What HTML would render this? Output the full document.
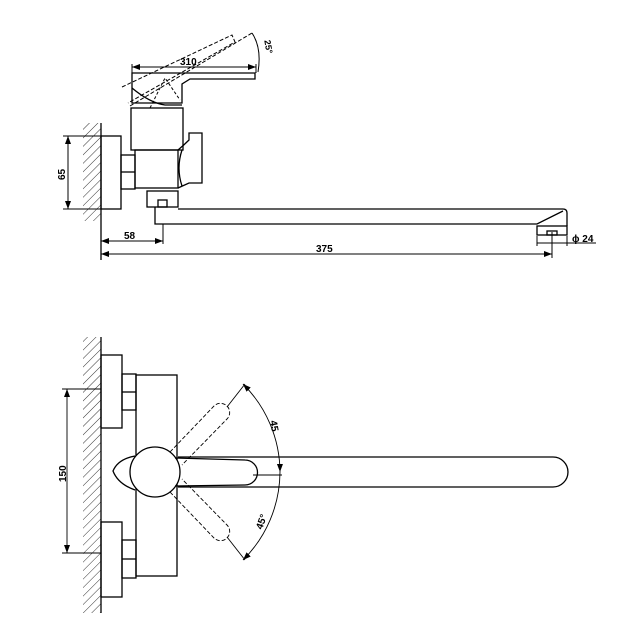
<!DOCTYPE html>
<html><head><style>html,body{margin:0;padding:0;background:#fff}svg{display:block}</style></head><body>
<svg width="634" height="621" viewBox="0 0 634 621" xmlns="http://www.w3.org/2000/svg" font-family="Liberation Sans, sans-serif" font-weight="bold" font-size="10">
<defs>
<pattern id="h" width="6" height="6" patternUnits="userSpaceOnUse" patternTransform="rotate(45)"><line x1="0" y1="0" x2="0" y2="6" stroke="#000" stroke-width="0.8"/></pattern>
<marker id="a" markerWidth="8" markerHeight="6" refX="8" refY="3" orient="auto-start-reverse" markerUnits="userSpaceOnUse"><path d="M0,0 L8,3 L0,6z" fill="#000"/></marker>
</defs>
<g fill="none" stroke="#000" stroke-width="1.3">
<rect x="83" y="123" width="18" height="98" fill="url(#h)" stroke="none"/>
<line x1="101" y1="123" x2="101" y2="260"/>
<rect x="101" y="136" width="20" height="73"/>
<rect x="121" y="155" width="14" height="34"/>
<line x1="121" y1="172" x2="135" y2="172"/>
<rect x="131" y="108" width="52" height="42"/>
<rect x="135" y="150" width="43" height="38"/>
<path d="M178,150 Q184,145 189,140 L189,133 L202,133 L202,183 L189,183 L178,188"/>
<path d="M182,150 Q176,168 182,186"/>
<rect x="147" y="191" width="31" height="16"/>
<rect x="158" y="200" width="9" height="7"/>
<path d="M155,207 L155,224 L160,224"/>
<path d="M178,209 L563,209 Q567,209 567,213 L567,226"/>
<path d="M160,224 L537,224 L563,211"/>
<rect x="537" y="226" width="30" height="9"/>
<rect x="547" y="231" width="10" height="4"/>
<path d="M132,73 L255,73 L255,79 L190,79 L182,84 L182,103 L132,103 Z"/>
<path d="M132,88 Q150,103 165,105 L182,105"/>
<path d="M122,87 L232,35 L235,42 L128,103" stroke-dasharray="4,2" stroke-width="1"/>
<path d="M130,106 L252,33" stroke-dasharray="4,2" stroke-width="1"/>
<path d="M150,108 L165,78 L180,100" stroke-dasharray="3,2" stroke-width="1"/>
<path d="M252,33 Q262,48 258,72" stroke-width="1"/>
<line x1="132" y1="67" x2="256" y2="67" marker-start="url(#a)" marker-end="url(#a)" stroke-width="1"/>
<line x1="132" y1="64" x2="132" y2="73" stroke-width="1"/>
<line x1="256" y1="64" x2="256" y2="73" stroke-width="1"/>
<line x1="63" y1="136" x2="101" y2="136" stroke-width="1"/>
<line x1="63" y1="209" x2="101" y2="209" stroke-width="1"/>
<line x1="68" y1="136" x2="68" y2="209" marker-start="url(#a)" marker-end="url(#a)" stroke-width="1"/>
<line x1="101" y1="241" x2="163" y2="241" marker-start="url(#a)" marker-end="url(#a)" stroke-width="1"/>
<line x1="163" y1="224" x2="163" y2="244" stroke-width="1"/>
<line x1="101" y1="254" x2="552" y2="254" marker-start="url(#a)" marker-end="url(#a)" stroke-width="1"/>
<line x1="552" y1="232" x2="552" y2="258" stroke-width="1"/>
<line x1="537" y1="236" x2="537" y2="246" stroke-width="1"/>
<line x1="567" y1="236" x2="567" y2="246" stroke-width="1"/>
<line x1="537" y1="243" x2="567" y2="243" stroke-width="1"/>
<line x1="567" y1="243" x2="596" y2="243" stroke-width="1"/>
<rect x="83" y="337" width="18" height="276" fill="url(#h)" stroke="none"/>
<line x1="101" y1="337" x2="101" y2="613"/>
<rect x="101" y="355" width="21" height="73"/>
<rect x="101" y="522" width="21" height="75"/>
<rect x="122" y="374" width="14" height="36"/>
<line x1="122" y1="392" x2="136" y2="392"/>
<rect x="122" y="540" width="14" height="38"/>
<line x1="122" y1="559" x2="136" y2="559"/>
<rect x="136" y="375" width="41" height="201"/>
<path d="M178,457 L553,457 A15,15 0 0 1 553,487 L178,487"/>
<path d="M135,456 Q118,459 113,471 Q118,484 135,490"/>
<circle cx="155" cy="472" r="25" fill="#fff"/>
<path d="M175,458 L245,460 A12.5,12.5 0 0 1 245,485 L175,486"/>
<g stroke-width="0.9" stroke-dasharray="4,2">
<path d="M170,452 L214,406 A9,9 0 0 1 227,419 L182,465"/>
<path d="M170,492 L214,538 A9,9 0 0 0 227,525 L182,479"/>
</g>
<g stroke-width="0.9">
<path d="M227,407 L245,384"/><path d="M227,537 L245,560"/>
<line x1="253" y1="475" x2="282" y2="475"/>
<path d="M243,384 A125,125 0 0 1 280,472" marker-start="url(#a)" marker-end="url(#a)"/>
<path d="M280,472 A125,125 0 0 1 243,560" marker-end="url(#a)"/>
<line x1="62" y1="389" x2="101" y2="389"/>
<line x1="62" y1="553" x2="101" y2="553"/>
<line x1="67" y1="389" x2="67" y2="553" marker-start="url(#a)" marker-end="url(#a)"/>
</g>
</g>
<g fill="#000" stroke="none">
<text x="180" y="65">310</text>
<text x="258" y="42" transform="rotate(80 262 45)" font-size="9">25°</text>
<text x="0" y="0" transform="translate(65,180) rotate(-90)">65</text>
<text x="124" y="239">58</text>
<text x="316" y="252">375</text>
<text x="572" y="242">ϕ 24</text>
<text x="0" y="0" transform="translate(66,482) rotate(-90)">150</text>
<text x="0" y="0" transform="translate(270,421) rotate(80)">45</text>
<text x="0" y="0" transform="translate(262,530) rotate(-70)">45°</text>
</g>
</svg>
</body></html>
